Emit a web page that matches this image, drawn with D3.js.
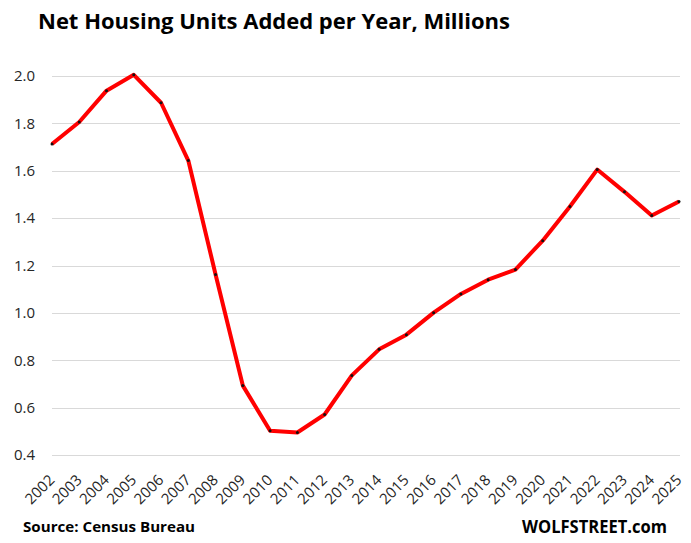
<!DOCTYPE html>
<html>
<head>
<meta charset="utf-8">
<script src="https://cdn.jsdelivr.net/npm/d3@7"></script>
<style>
	body { margin: 0; background: #fff; }
	text { font-family: "Open Sans", "DejaVu Sans", sans-serif; fill: #000; }
</style>
</head>
<body>
<div id="chart"></div>
<script>
	/**
	 * Data
	 */
	let years = ["2002", "2003", "2004", "2005", "2006", "2007", "2008", "2009", "2010", "2011", "2012", "2013",
		"2014", "2015", "2016", "2017", "2018", "2019", "2020", "2021", "2022", "2023", "2024", "2025"];
	let units = [1.713, 1.806, 1.938, 2.005, 1.887, 1.643, 1.162, 0.693, 0.502, 0.495, 0.571, 0.736,
		0.846, 0.908, 1.001, 1.080, 1.140, 1.183, 1.305, 1.449, 1.605, 1.511, 1.411, 1.470];
	let yTicks = [0.4, 0.6, 0.8, 1.0, 1.2, 1.4, 1.6, 1.8, 2.0];

	/**
	 * Dimensions
	 */
	let width = 691;
	let height = 543;
	let margin = { top: 76, right: 11, bottom: 88, left: 52 };
	let chartW = width - (margin.left + margin.right);
	let chartH = height - (margin.top + margin.bottom);

	let svg = d3.select("#chart").append("svg")
		.attr("width", width)
		.attr("height", height);

	// Title
	svg.append("text")
		.attr("x", 38)
		.attr("y", 29)
		.attr("textLength", 472)
		.attr("lengthAdjust", "spacingAndGlyphs")
		.style("font-size", "22px")
		.style("font-weight", "bold")
		.text("Net Housing Units Added per Year, Millions");

	let chart = svg.append("g")
		.attr("transform", "translate(" + margin.left + "," + margin.top + ")");

	/**
	 * Scales
	 */
	let xScale = d3.scalePoint().domain(years).range([0, chartW - 1]);
	let yScale = d3.scaleLinear().domain([0.4, 2.0]).range([chartH, 0]);

	// Gridlines
	chart.append("g").attr("class", "grid")
		.selectAll("line")
		.data(yTicks)
		.enter().append("line")
		.attr("x1", 0)
		.attr("x2", chartW)
		.attr("y1", function(d) { return Math.round(yScale(d)) + 0.5; })
		.attr("y2", function(d) { return Math.round(yScale(d)) + 0.5; })
		.style("stroke", "#d9d9d9")
		.style("stroke-width", 1);

	// Y axis labels
	let yAxis = d3.axisLeft(yScale).tickValues(yTicks).tickFormat(d3.format(".1f")).tickSize(0).tickPadding(17);
	chart.append("g").attr("class", "y axis").call(yAxis)
		.call(function(g) { g.select(".domain").remove(); })
		.selectAll("text")
		.style("font-size", "15px")
		.style("fill", "#262626")
		.style("font-family", "\"Open Sans\", sans-serif");

	// X axis labels, rotated
	let xAxis = d3.axisBottom(xScale).tickSize(0).tickPadding(0);
	chart.append("g").attr("class", "x axis")
		.attr("transform", "translate(0," + chartH + ")")
		.call(xAxis)
		.call(function(g) { g.select(".domain").remove(); })
		.selectAll("text")
		.attr("text-anchor", "end")
		.attr("dy", null)
		.attr("y", 0)
		.attr("transform", "translate(3,26) rotate(-45)")
		.style("font-size", "15px")
		.style("fill", "#262626")
		.style("font-family", "\"Open Sans\", sans-serif");

	// Line
	let line = d3.line()
		.x(function(d, i) { return xScale(years[i]); })
		.y(function(d) { return yScale(d); });

	chart.append("path")
		.datum(units)
		.attr("d", line)
		.style("fill", "none")
		.style("stroke", "#ff0000")
		.style("stroke-width", 4)
		.style("stroke-linejoin", "round");

	// Point markers
	chart.selectAll(".dot")
		.data(units)
		.enter().append("circle")
		.attr("class", "dot")
		.attr("r", 1.5)
		.attr("cx", function(d, i) { return xScale(years[i]); })
		.attr("cy", function(d) { return yScale(d); })
		.style("fill", "#111");

	// Footer
	svg.append("text")
		.attr("x", 23)
		.attr("y", 532)
		.attr("textLength", 172)
		.attr("lengthAdjust", "spacingAndGlyphs")
		.style("font-size", "15px")
		.style("font-weight", "bold")
		.text("Source: Census Bureau");

	svg.append("text")
		.attr("x", 522)
		.attr("y", 533)
		.attr("textLength", 145)
		.attr("lengthAdjust", "spacingAndGlyphs")
		.style("font-size", "18px")
		.style("font-weight", "bold")
		.text("WOLFSTREET.com");
</script>
</body>
</html>
